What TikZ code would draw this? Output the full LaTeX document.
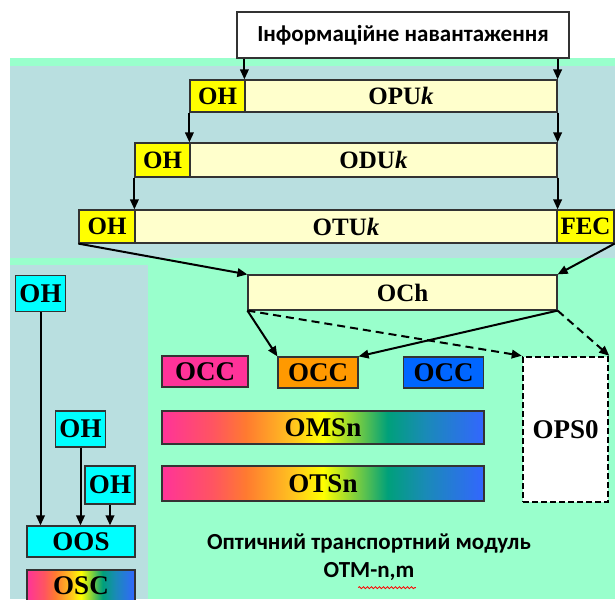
\documentclass[tikz,border=0pt]{standalone}
\usepackage{fontspec}
\setmainfont{Liberation Serif}
\newfontfamily\capfont{Carlito}
\usetikzlibrary{arrows.meta,decorations.pathmorphing}

\definecolor{panelblue}{HTML}{B9DFE0}
\definecolor{mint}{HTML}{99FFCC}
\definecolor{cream}{HTML}{FFFFCC}
\definecolor{ohyellow}{HTML}{FFFF00}
\definecolor{ohcyan}{HTML}{00FFFF}
\definecolor{occpink}{HTML}{FF3399}
\definecolor{occorange}{HTML}{FF9900}
\definecolor{occblue}{HTML}{0066FF}
\definecolor{edge}{HTML}{333333}
\definecolor{specred}{HTML}{FF5560}
\definecolor{specorange}{HTML}{FF7A30}
\definecolor{specgold}{HTML}{FFC020}
\definecolor{specyellow}{HTML}{FFFF00}
\definecolor{specteal}{HTML}{00A07A}
\definecolor{specsea}{HTML}{1A8AB8}
\definecolor{specblue}{HTML}{3366FF}

\pgfdeclarehorizontalshading{spectrum}{100bp}{color(0bp)=(occpink); color(25bp)=(occpink);
  color(33bp)=(specred); color(38bp)=(specorange); color(45bp)=(specgold); color(50bp)=(specyellow);
  color(60bp)=(specteal); color(66bp)=(specsea); color(75bp)=(specblue); color(100bp)=(specblue)}

\tikzset{
  box/.style={draw=edge, line width=1.2pt, inner sep=0pt, font=\bfseries\fontsize{25}{25}\selectfont},
  bigbox/.style={box, font=\bfseries\fontsize{27}{27}\selectfont},
  ohbox/.style={box, fill=ohyellow, minimum width=55pt},
  layerbox/.style={box, fill=cream},
  ccbox/.style={bigbox, minimum width=80pt, minimum height=31pt},
  cyanbox/.style={bigbox, fill=ohcyan, minimum width=50pt, minimum height=36pt},
  specbar/.style={bigbox, shading=spectrum, minimum width=322pt, minimum height=34pt},
  link/.style={line width=2pt, -{Triangle[length=10pt,width=8.5pt]}},
  dashlink/.style={link, dash pattern=on 8pt off 5pt},
  sanstext/.style={font=\capfont\bfseries\fontsize{23}{23}\selectfont}
}

\begin{document}
\begin{tikzpicture}[x=1pt,y=-1pt]
  \clip (0,0) rectangle (615,599);
  \fill[white] (0,0) rectangle (615,599);
  % backgrounds
  \fill[mint] (10,58) rectangle (615,599);
  \fill[panelblue] (10,66) rectangle (615,258);
  \fill[panelblue] (10,265) rectangle (148,599);

  \node[box, fill=white, minimum width=332pt, minimum height=46pt, sanstext] (info) at (403,35) {Інформаційне навантаження};

  % OPUk, ODUk, OTUk
  \node[ohbox, minimum height=32pt] (oh1) at (217.5,96) {OH};
  \node[layerbox, minimum width=312pt, minimum height=32pt] (opu) at (401,96) {OPU\textit{k}};
  \node[ohbox, minimum height=34pt] (oh2) at (162.5,160) {OH};
  \node[layerbox, minimum width=367pt, minimum height=34pt] (odu) at (373.5,160) {ODU\textit{k}};
  \node[ohbox, minimum width=56pt, minimum height=33pt] (oh3) at (107,226.5) {OH};
  \node[layerbox, minimum width=422pt, minimum height=33pt] (otu) at (346,226.5) {OTU\textit{k}};
  \node[ohbox, minimum width=57pt, minimum height=33pt] (fec) at (585.5,226.5) {FEC};

  \node[layerbox, minimum width=309pt, minimum height=35pt] (och) at (402.5,292.5) {OCh};

  % optical channel carriers
  \node[ccbox, fill=occpink, minimum width=86pt] (occa) at (205,371.5) {OCC};
  \node[ccbox, fill=occorange] (occb) at (318,372.5) {OCC};
  \node[ccbox, fill=occblue] (occc) at (443.5,372.5) {OCC};
  \node[bigbox, fill=white, draw=black, line width=2.5pt, dash pattern=on 6pt off 3pt,
        minimum width=85pt, minimum height=145pt] (ops) at (565.5,429.5) {OPS0};
  \node[specbar, minimum height=33pt] (oms) at (323,427.5) {OMSn};
  \node[specbar, minimum height=35pt] (ots) at (323,483.5) {OTSn};

  % supervisory channel
  \node[cyanbox] (ohx) at (40.5,293.5) {OH};
  \node[cyanbox] (ohy) at (80.5,429) {OH};
  \node[cyanbox, minimum height=38pt] (ohz) at (110,485) {OH};
  \node[bigbox, fill=ohcyan, minimum width=108pt, minimum height=31pt] (oos) at (81,541.5) {OOS};
  \node[specbar, minimum width=108pt, minimum height=31pt] (osc) at (81,585.5) {OSC};

  \node[sanstext] (otmname) at (369,543) {Оптичний транспортний модуль};
  \node[sanstext] (otm) at (369,572) {OTM-n,m};
  \draw[red, line width=0.8pt, decorate, decoration={snake, amplitude=1pt, segment length=4pt}]
    ([xshift=38pt,yshift=-3pt]otm.south west) -- ([xshift=-2pt,yshift=-3pt]otm.south east);

  % connectors
  \draw[link] (info.south -| opu.north west) -- (opu.north west);
  \draw[link] (info.south -| opu.north east) -- (opu.north east);
  \draw[link] (oh1.south west) -- (odu.north west);
  \draw[link] (opu.south east) -- (odu.north east);
  \draw[link] (oh2.south west) -- (otu.north west);
  \draw[link] (odu.south east) -- (otu.north east);
  \draw[link] (oh3.south west) -- (och.north west);
  \draw[link] (fec.south east) -- (och.north east);
  \draw[link] (och.south west) -- (occb.north west);
  \draw[link] (och.south east) -- (occb.north east);
  \draw[dashlink] (och.south west) -- (ops.north west);
  \draw[dashlink] (och.south east) -- (ops.north east);
  \foreach \n in {ohx,ohy,ohz}
    \draw[link] (\n.south) -- (\n.south |- oos.north);
\end{tikzpicture}
\end{document}
